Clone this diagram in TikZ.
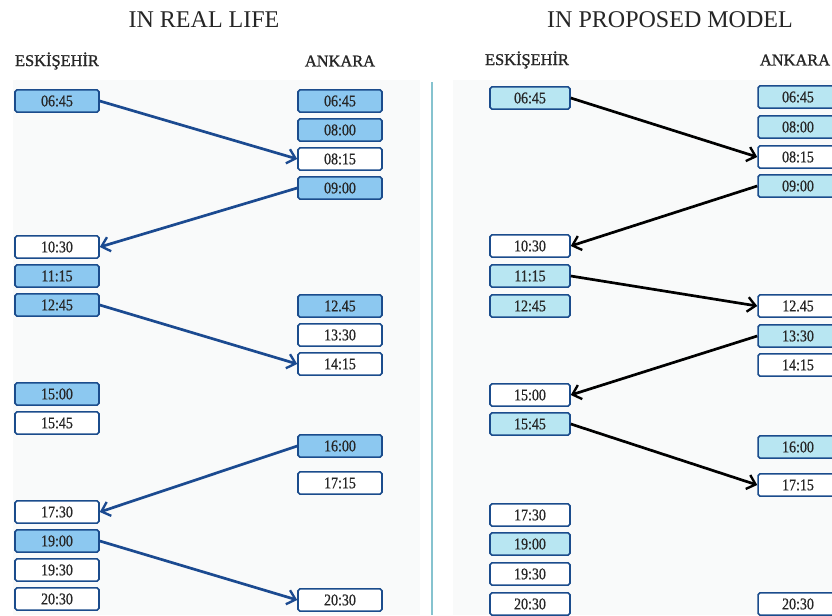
\documentclass[tikz,border=0pt]{standalone}
\usepackage{fontspec}
\setmainfont{Liberation Serif}
\newfontfamily\slotfont[FakeStretch=0.85,FakeBold=0.6]{Liberation Serif}
\newfontfamily\cityfont[FakeBold=1.2]{Liberation Serif}
\usetikzlibrary{arrows.meta}

\definecolor{boxblue}{HTML}{1B4C8C}
\definecolor{realfill}{HTML}{8CC8F0}
\definecolor{modelfill}{HTML}{B8E6F2}
\definecolor{realarrow}{HTML}{1B4A90}
\definecolor{divider}{HTML}{86C3CF}
\definecolor{panel}{HTML}{F9FAFA}

\tikzset{
	slot/.style={draw=boxblue,line width=1.3pt,rounded corners=1.6pt,inner sep=0pt,
		minimum height=6.7mm,font=\slotfont\fontsize{14}{15}\selectfont,text=black!85},
	lslot/.style={slot,minimum width=25.2mm},
	rslot/.style={slot,minimum width=24mm},
	lfull/.style={lslot,fill=realfill},
	lfree/.style={lslot,fill=white},
	rfull/.style={rslot,fill=modelfill},
	rfree/.style={rslot,fill=white},
	trip/.style={line width=2.3pt,-{Straight Barb[length=2.4mm,width=4.4mm,line width=2pt]}},
	ltrip/.style={trip,draw=realarrow},
	rtrip/.style={trip,draw=black},
	title/.style={font=\fontsize{20.5}{22}\selectfont,text=black!85},
	city/.style={font=\cityfont\fontsize{14}{15}\selectfont,text=black!85}
}

\begin{document}
\begin{tikzpicture}[x=0.3mm,y=-0.3mm]
		\useasboundingbox (0,0) rectangle (832,615);
		\clip (0,0) rectangle (832,615);
		\fill[white] (0,0) rectangle (832,615);
		\fill[panel] (13,80) rectangle (420,615);
		\fill[panel] (453,80) rectangle (832,615);
		\draw[divider,line width=1.5pt] (432,82) -- (432,615);

		% in real life
		\node[title] (ltitle) at (204,20) {IN REAL LIFE};
		\node[city] (lesk) at (57,61) {ESKİŞEHİR};
		\node[city] (lank) at (340,61) {ANKARA};

		\node[lfull] (lE0645) at (57,101) {06:45};
		\node[lfree] (lE1030) at (57,247) {10:30};
		\node[lfull] (lE1115) at (57,276) {11:15};
		\node[lfull] (lE1245) at (57,305) {12:45};
		\node[lfull] (lE1500) at (57,394) {15:00};
		\node[lfree] (lE1545) at (57,423) {15:45};
		\node[lfree] (lE1730) at (57,512) {17:30};
		\node[lfull] (lE1900) at (57,541) {19:00};
		\node[lfree] (lE1930) at (57,570) {19:30};
		\node[lfree] (lE2030) at (57,599) {20:30};

		\node[lfull] (lA0645) at (340,101) {06:45};
		\node[lfull] (lA0800) at (340,130) {08:00};
		\node[lfree] (lA0815) at (340,159) {08:15};
		\node[lfull] (lA0900) at (340,188) {09:00};
		\node[lfull] (lA1245) at (340,306) {12.45};
		\node[lfree] (lA1330) at (340,335) {13:30};
		\node[lfree] (lA1415) at (340,364) {14:15};
		\node[lfull] (lA1600) at (340,446) {16:00};
		\node[lfree] (lA1715) at (340,483) {17:15};
		\node[lfree] (lA2030) at (340,600) {20:30};

		\draw[ltrip] (lE0645.east) -- (lA0815.west);
		\draw[ltrip] (lA0900.west) -- (lE1030.east);
		\draw[ltrip] (lE1245.east) -- (lA1415.west);
		\draw[ltrip] (lA1600.west) -- (lE1730.east);
		\draw[ltrip] (lE1900.east) -- (lA2030.west);

		% in proposed model
		\node[title] (rtitle) at (670,20) {IN PROPOSED MODEL};
		\node[city] (resk) at (527,60) {ESKİŞEHİR};
		\node[city] (rank) at (795,60) {ANKARA};

		\node[rfull] (rE0645) at (530,98) {06:45};
		\node[rfree] (rE1030) at (530,246) {10:30};
		\node[rfull] (rE1115) at (530,276) {11:15};
		\node[rfull] (rE1245) at (530,306) {12:45};
		\node[rfree] (rE1500) at (530,395) {15:00};
		\node[rfull] (rE1545) at (530,424) {15:45};
		\node[rfree] (rE1730) at (530,515) {17:30};
		\node[rfull] (rE1900) at (530,544) {19:00};
		\node[rfree] (rE1930) at (530,574) {19:30};
		\node[rfree] (rE2030) at (530,604) {20:30};

		\node[rfull] (rA0645) at (798,97) {06:45};
		\node[rfull] (rA0800) at (798,127) {08:00};
		\node[rfree] (rA0815) at (798,157) {08:15};
		\node[rfull] (rA0900) at (798,186) {09:00};
		\node[rfree] (rA1245) at (798,306) {12.45};
		\node[rfull] (rA1330) at (798,336) {13:30};
		\node[rfree] (rA1415) at (798,365) {14:15};
		\node[rfull] (rA1600) at (798,447) {16:00};
		\node[rfree] (rA1715) at (798,485) {17:15};
		\node[rfree] (rA2030) at (798,604) {20:30};

		\draw[rtrip] (rE0645.east) -- (rA0815.west);
		\draw[rtrip] (rA0900.west) -- (rE1030.east);
		\draw[rtrip] (rE1115.east) -- (rA1245.west);
		\draw[rtrip] (rA1330.west) -- (rE1500.east);
		\draw[rtrip] (rE1545.east) -- (rA1715.west);
\end{tikzpicture}
\end{document}
